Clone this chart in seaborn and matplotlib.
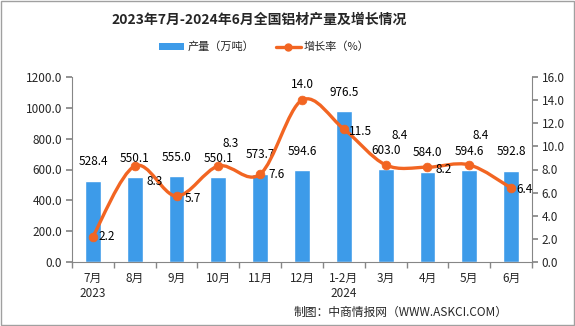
import numpy as np
import pandas as pd
import matplotlib
matplotlib.use("Agg")
import matplotlib.pyplot as plt
from matplotlib.path import Path
from matplotlib.patches import PathPatch, Rectangle, Patch
from matplotlib.lines import Line2D
import seaborn as sns

# ---------------- data ----------------
months = ["7月\n2023", "8月", "9月", "10月", "11月", "12月", "1-2月\n2024", "3月", "4月", "5月", "6月"]
output = [528.4, 550.1, 555.0, 550.1, 573.7, 594.6, 976.5, 603.0, 584.0, 594.6, 592.8]
growth = [2.2, 8.3, 5.7, 8.3, 7.6, 14.0, 11.5, 8.4, 8.2, 8.4, 6.4]
left_ticks = [0, 200, 400, 600, 800, 1000, 1200]
right_ticks = [0, 2, 4, 6, 8, 10, 12, 14, 16]
title = "2023年7月-2024年6月全国铝材产量及增长情况"
source = "制图：中商情报网（WWW.ASKCI.COM）"
# label offsets (points) for growth labels
g_off = [(10, 0), (14, -11), (12, -2), (9, 16), (12, 0), (0, 11), (12, -2), (10, 21), (12, -2), (8, 21), (10, -1)]

sns.set_theme(style="white")
plt.rcParams["font.family"] = ["Noto Sans CJK SC", "DejaVu Sans"]

BAR = "#3d9be9"
LINE = "#f26522"
AX = "#868686"

fig = plt.figure(figsize=(5.75, 3.26), dpi=100)
ax = fig.add_axes([72 / 575, 1 - 262 / 326, (532 - 72) / 575, (262 - 77) / 326])

df = pd.DataFrame({"month": months, "output": output, "growth": growth})
sns.barplot(data=df, x="month", y="output", order=months, color=BAR, width=0.38,
            saturation=1, ax=ax, zorder=2)
ax.set_xlim(-0.5, len(months) - 0.5)
ax.set_ylim(0, 1200)
ax.set_yticks(left_ticks)
ax.set_yticklabels([f"{v:.1f}" for v in left_ticks], fontsize=8.5)
ax.set_xlabel("")
ax.set_ylabel("")
ax.set_xticks(range(len(months)))
ax.set_xticklabels(months, fontsize=8.5, linespacing=1.25)
ax.set_xticks(np.arange(-0.5, len(months), 1.0), minor=True)
ax.tick_params(axis="x", which="major", length=0, pad=7)
ax.tick_params(axis="x", which="minor", length=4, color=AX, direction="out", bottom=True)
ax.tick_params(axis="y", length=4, color=AX, direction="out", left=True, pad=3)
for s in ["top", "right"]:
    ax.spines[s].set_visible(False)
for s in ["left", "bottom"]:
    ax.spines[s].set_color(AX)
    ax.spines[s].set_linewidth(0.8)

for i, v in enumerate(output):
    ax.annotate(f"{v:.1f}", (i, v), xytext=(0, 9), textcoords="offset points",
                ha="center", va="bottom", fontsize=8.5, color="black")

# twin axis for growth
ax2 = ax.twinx()
ax2.set_ylim(0, 16)
ax2.set_yticks(right_ticks)
ax2.set_yticklabels([f"{v:.1f}" for v in right_ticks], fontsize=8.5)
ax2.tick_params(axis="y", length=4, color=AX, direction="out", right=True, pad=3)
for s in ["top", "left", "bottom"]:
    ax2.spines[s].set_visible(False)
ax2.spines["right"].set_color(AX)
ax2.spines["right"].set_linewidth(0.8)
ax2.grid(False)
ax.grid(False)

# smooth (Catmull-Rom style Bezier) line through the data points
xs = np.arange(len(growth), dtype=float)
ys = np.array(growth, dtype=float)
pts = np.column_stack([xs, ys])
verts = [tuple(pts[0])]
codes = [Path.MOVETO]
n = len(pts)
for i in range(n - 1):
    p0 = pts[i - 1] if i > 0 else pts[i]
    p1 = pts[i]
    p2 = pts[i + 1]
    p3 = pts[i + 2] if i + 2 < n else pts[i + 1]
    c1 = p1 + (p2 - p0) / 6.0
    c2 = p2 - (p3 - p1) / 6.0
    verts += [tuple(c1), tuple(c2), tuple(p2)]
    codes += [Path.CURVE4] * 3
ax2.add_patch(PathPatch(Path(verts, codes), facecolor="none", edgecolor=LINE, lw=2.4, zorder=3))
sns.scatterplot(x=xs, y=ys, ax=ax2, color=LINE, s=40, edgecolor=LINE, zorder=4, legend=False)

for i, v in enumerate(growth):
    dx, dy = g_off[i]
    ax2.annotate(f"{v:.1f}", (i, v), xytext=(dx, dy), textcoords="offset points",
                 ha="center", va="center", fontsize=8.5, color="black", zorder=5)

# title, legend, source
fig.text(0.45, 1 - 20 / 326, title, ha="center", va="center", fontsize=10, fontweight="bold")
handles = [Patch(facecolor=BAR, edgecolor="none"),
           Line2D([0], [0], color=LINE, lw=2.4, marker="o", markersize=5)]
fig.legend(handles, ["产量（万吨）", "增长率（%）"], loc="center", bbox_to_anchor=(0.46, 1 - 47 / 326),
           ncol=2, frameon=False, fontsize=8, handlelength=2.2, handleheight=0.5,
           columnspacing=2.0, handletextpad=0.3)
fig.text(508 / 575, 1 - 312 / 326, source, ha="right", va="center", fontsize=8.5)

fig.patches.append(Rectangle((0.001, 0.002), 0.997, 0.995, transform=fig.transFigure,
                             fill=False, edgecolor="#a0a0a0", lw=1))

fig.savefig("out.png", dpi=100)
